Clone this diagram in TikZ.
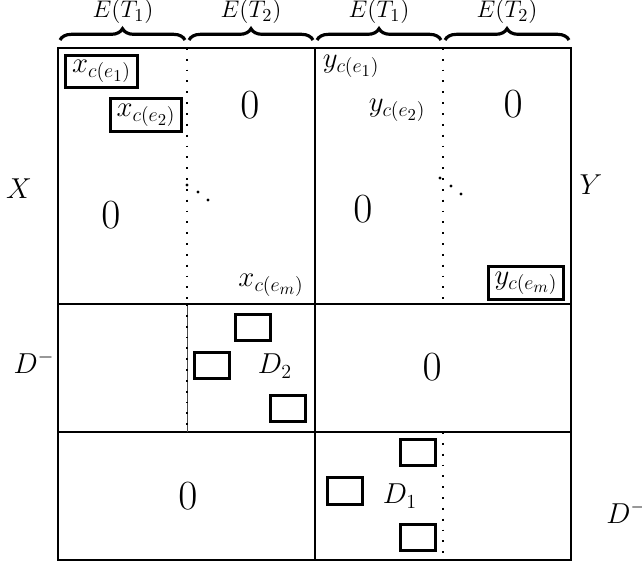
\documentclass[tikz,border=0pt]{standalone}
\usetikzlibrary{decorations.pathreplacing}
\begin{document}
\begin{tikzpicture}[x=0.6pt,y=-0.6pt,
  frame/.style={line width=0.8pt},
  dotline/.style={line width=0.9pt, dash pattern=on 1.1pt off 5.4pt},
  lbl/.style={font=\LARGE, inner sep=0pt},
  entry/.style={font=\LARGE, inner sep=0pt},
  boxed/.style={draw, line width=1.8pt, font=\LARGE, inner xsep=3.8pt, inner ysep=3pt},
  zero/.style={font=\fontsize{28}{30}\selectfont, inner sep=0pt},
  blk/.style={draw, line width=1.8pt, minimum width=21pt, minimum height=16pt, inner sep=0pt},
  br/.style={decorate, decoration={brace, amplitude=6.8pt}, line width=1.9pt},
  head/.style={font=\fontsize{15}{17}\selectfont, inner sep=0pt}]
\useasboundingbox (0,0) rectangle (642,563);

% outer frame and block partition
\draw[frame] (58,48) rectangle (571,560);
\draw[frame] (315,48) -- (315,560);
\draw[frame] (58,304) -- (571,304);
\draw[frame] (58,432) -- (571,432);

% dotted column separators
\draw[dotline] (187,48) -- (187,304);
\draw[line width=0.5pt, black!70] (187,304) -- (187,432);
\draw[dotline] (187,304) -- (187,432);
\draw[dotline] (443,48) -- (443,304);
\draw[dotline] (443,432) -- (443,560);

% column braces and their labels
\coordinate (b0) at (60,40);  \coordinate (b1) at (185,40);
\coordinate (b2) at (189,40); \coordinate (b3) at (313,40);
\coordinate (b4) at (317,40); \coordinate (b5) at (441,40);
\coordinate (b6) at (445,40); \coordinate (b7) at (569,40);
\draw[br] (b0) -- (b1);
\draw[br] (b2) -- (b3);
\draw[br] (b4) -- (b5);
\draw[br] (b6) -- (b7);
\node[head] (h1) at (123,12) {$E(T_1)$};
\node[head] (h2) at (251,12) {$E(T_2)$};
\node[head] (h3) at (379,12) {$E(T_1)$};
\node[head] (h4) at (507,12) {$E(T_2)$};

% row labels
\node[lbl] (lx) at (19,189) {$X$};
\node[lbl] (ly) at (591,185) {$Y$};
\node[lbl] (ld1) at (34,362) {$D^-$};
\node[lbl, anchor=west] (ld2) at (606,512) {$D^-$};

% X block
\node[boxed] (xe1) at (101.5,71.5) {$x_{c(e_1)}$};
\node[boxed] (xe2) at (146,115) {$x_{c(e_2)}$};
\node[entry] (xem) at (271,285) {$x_{c(e_m)}$};
\node[zero] (z1) at (250,105) {$0$};
\node[zero] (z2) at (111,215) {$0$};
\fill (187,185) circle (1pt) (198,192) circle (1pt) (208,200) circle (1pt);

% Y block
\node[entry] (ye1) at (351,66) {$y_{c(e_1)}$};
\node[entry] (ye2) at (397,110) {$y_{c(e_2)}$};
\node[boxed] (yem) at (526,283) {$y_{c(e_m)}$};
\node[zero] (z3) at (513,104) {$0$};
\node[zero] (z4) at (363,209) {$0$};
\fill (440,178) circle (1pt) (451,186) circle (1pt) (461,194) circle (1pt);

% D2 block
\node[blk] (p1) at (252.5,327.5) {};
\node[blk] (p2) at (212,365.5) {};
\node[blk] (p3) at (288,408.5) {};
\node[lbl] (d2) at (275,366) {$D_2$};
\node[zero] (z5) at (432,367) {$0$};

% D1 block
\node[blk] (q1) at (417.5,452.5) {};
\node[blk] (q2) at (344.5,491) {};
\node[blk] (q3) at (417.5,537.5) {};
\node[lbl] (d1) at (400,496) {$D_1$};
\node[zero] (z6) at (188,496) {$0$};
\end{tikzpicture}
\end{document}
